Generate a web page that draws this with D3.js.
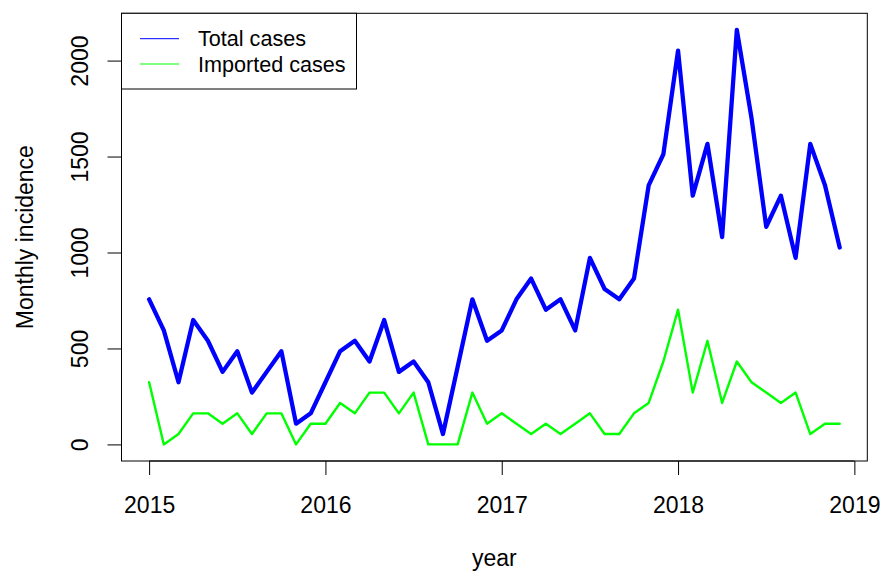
<!DOCTYPE html>
<html>
<head>
<meta charset="utf-8">
<script src="https://cdn.jsdelivr.net/npm/d3@7/dist/d3.min.js"></script>
<style>
  body { margin: 0; background: #fff; }
  svg text { font-family: "Liberation Sans", Arial, Helvetica, sans-serif; fill: #000; }
</style>
</head>
<body>
<div id="vis"></div>
<script>
/* Data */
var startYear = 2015;
var totalCases = [
    756, 594, 324, 648, 540, 378, 486, 270, 378, 486, 108, 162,
    324, 486, 540, 432, 648, 378, 432, 324, 54, 405, 756, 540,
    594, 756, 864, 702, 756, 594, 972, 810, 756, 864, 1350, 1512,
    2052, 1296, 1566, 1080, 2160, 1700, 1134, 1296, 972, 1566, 1350, 1026
];
var importedCases = [
    324, 0, 54, 162, 162, 108, 162, 54, 162, 162, 0, 108,
    108, 216, 162, 270, 270, 162, 270, 0, 0, 0, 270, 108,
    162, 108, 54, 108, 54, 108, 162, 54, 54, 162, 216, 432,
    702, 270, 540, 216, 432, 324, 270, 216, 270, 54, 108, 108
];
var xTicks = [2015, 2016, 2017, 2018, 2019];
var yTicks = [0, 500, 1000, 1500, 2000];
var seriesNames = ["Total cases", "Imported cases"];
var seriesColors = ["#0000ff", "#00ff00"];

/* Set up */
var width = 884, height = 572;
var margin = { top: 13.3, right: 16.7, bottom: 111, left: 121.5 };
var fontSize = 23;

var svg = d3.select('#vis').append('svg')
    .attr('width', width).attr('height', height);

/* time index for each month */
var times = totalCases.map(function (d, i) { return startYear + i / 12; });

/* R style 4% padding */
function pad(ext) {
    var r = (ext[1] - ext[0]) * 0.04;
    return [ext[0] - r, ext[1] + r];
}

var xScale = d3.scaleLinear()
    .domain(pad(d3.extent(times)))
    .range([margin.left, width - margin.right]);

var yScale = d3.scaleLinear()
    .domain(pad([0, d3.max(totalCases.concat(importedCases))]))
    .range([height - margin.bottom, margin.top]);

/* Lines */
var line = d3.line()
    .x(function (d) { return xScale(d[0]); })
    .y(function (d) { return yScale(d[1]); });

svg.append('path')
    .datum(times.map(function (t, i) { return [t, importedCases[i]]; }))
    .attr('d', line)
    .attr('fill', 'none')
    .attr('stroke', seriesColors[1])
    .attr('stroke-width', 2.4)
    .attr('stroke-linejoin', 'round')
    .attr('stroke-linecap', 'round');

svg.append('path')
    .datum(times.map(function (t, i) { return [t, totalCases[i]]; }))
    .attr('d', line)
    .attr('fill', 'none')
    .attr('stroke', seriesColors[0])
    .attr('stroke-width', 4.3)
    .attr('stroke-linejoin', 'round')
    .attr('stroke-linecap', 'round');

/* Axes */
var xAxis = d3.axisBottom(xScale).tickValues(xTicks).tickSize(14).tickPadding(22)
    .tickFormat(d3.format('d'));
var xAxisDraw = svg.append('g')
    .attr('transform', 'translate(0,' + (height - margin.bottom) + ')')
    .call(xAxis);
xAxisDraw.select('.domain')
    .attr('d', 'M' + xScale(xTicks[0]) + ',0H' + xScale(xTicks[xTicks.length - 1]));
xAxisDraw.selectAll('text').attr('font-size', fontSize).attr('font-family', null);

var yAxis = d3.axisLeft(yScale).tickValues(yTicks).tickSize(14).tickFormat(d3.format('d'));
var yAxisDraw = svg.append('g')
    .attr('transform', 'translate(' + margin.left + ',0)')
    .call(yAxis);
yAxisDraw.select('.domain')
    .attr('d', 'M0,' + yScale(yTicks[0]) + 'V' + yScale(yTicks[yTicks.length - 1]));
yAxisDraw.selectAll('.tick text')
    .attr('font-size', fontSize).attr('font-family', null)
    .attr('x', null).attr('dy', null)
    .attr('text-anchor', 'middle')
    .attr('transform', 'translate(-33.5,0) rotate(-90)');
svg.selectAll('.domain, .tick line').attr('stroke', '#000').attr('stroke-width', 1);

/* Box */
svg.append('rect')
    .attr('x', margin.left).attr('y', margin.top)
    .attr('width', width - margin.right - margin.left)
    .attr('height', height - margin.bottom - margin.top)
    .attr('fill', 'none').attr('stroke', '#000').attr('stroke-width', 1);

/* Axis titles */
svg.append('text')
    .attr('x', (margin.left + width - margin.right) / 2)
    .attr('y', 566)
    .attr('text-anchor', 'middle')
    .attr('font-size', fontSize)
    .text('year');

svg.append('text')
    .attr('transform', 'translate(33,' + (margin.top + height - margin.bottom) / 2 + ') rotate(-90)')
    .attr('text-anchor', 'middle')
    .attr('font-size', fontSize)
    .text('Monthly incidence');

/* Legend */
var legend = svg.append('g').attr('class', 'legend');
legend.append('rect')
    .attr('x', margin.left).attr('y', margin.top)
    .attr('width', 235).attr('height', 75.7)
    .attr('fill', '#fff').attr('stroke', '#000').attr('stroke-width', 1);

seriesNames.forEach(function (name, i) {
    var ly = 38.7 + i * 25.3;
    legend.append('line')
        .attr('x1', 140).attr('x2', 179)
        .attr('y1', ly).attr('y2', ly)
        .attr('stroke', seriesColors[i]).attr('stroke-width', 1);
    legend.append('text')
        .attr('x', 198).attr('y', ly)
        .attr('dy', '0.35em')
        .attr('font-size', 21.6)
        .text(name);
});
</script>
</body>
</html>
